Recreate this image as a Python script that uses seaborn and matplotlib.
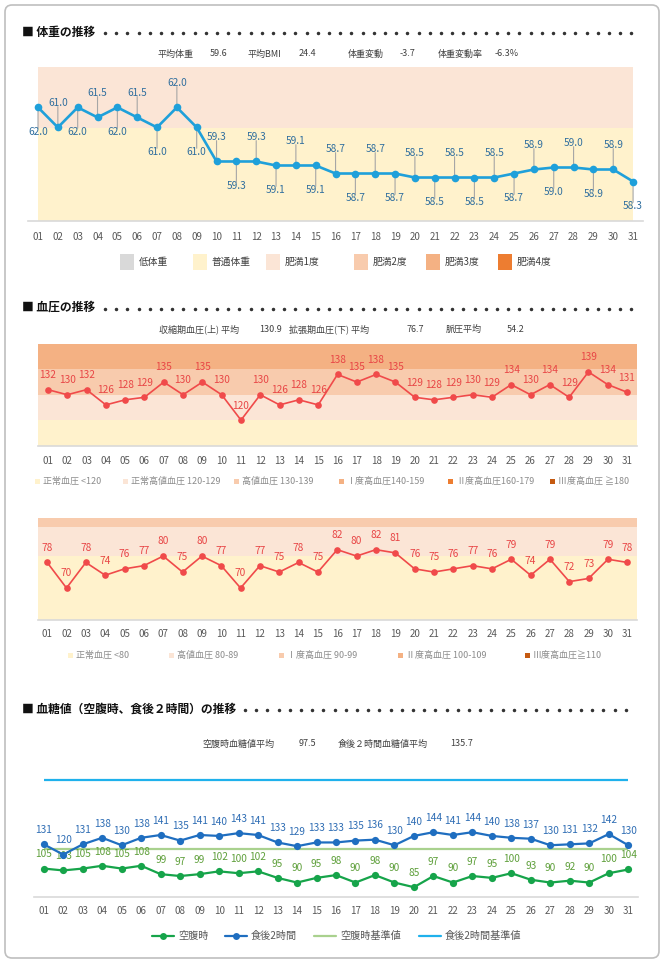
import matplotlib
matplotlib.use('Agg')
import matplotlib.pyplot as plt
from matplotlib.patches import FancyBboxPatch, Rectangle
from matplotlib.lines import Line2D
import numpy as np
import seaborn as sns

# ---- data ----
days = ['01', '02', '03', '04', '05', '06', '07', '08', '09', '10', '11', '12', '13', '14', '15', '16',
        '17', '18', '19', '20', '21', '22', '23', '24', '25', '26', '27', '28', '29', '30', '31']

weight = [62.0, 61.0, 62.0, 61.5, 62.0, 61.5, 61.0, 62.0, 61.0, 59.3, 59.3, 59.3, 59.1, 59.1, 59.1, 58.7,
          58.7, 58.7, 58.7, 58.5, 58.5, 58.5, 58.5, 58.5, 58.7, 58.9, 59.0, 59.0, 58.9, 58.9, 58.3]
weight_stat_names = ['平均体重', '平均BMI', '体重変動', '体重変動率']
weight_stat_values = ['59.6', '24.4', '-3.7', '-6.3%']
weight_cats = ['低体重', '普通体重', '肥満1度', '肥満2度', '肥満3度', '肥満4度']
weight_bmi25 = 60.95

systolic = [132, 130, 132, 126, 128, 129, 135, 130, 135, 130, 120, 130, 126, 128, 126, 138,
            135, 138, 135, 129, 128, 129, 130, 129, 134, 130, 134, 129, 139, 134, 131]
diastolic = [78, 70, 78, 74, 76, 77, 80, 75, 80, 77, 70, 77, 75, 78, 75, 82,
             80, 82, 81, 76, 75, 76, 77, 76, 79, 74, 79, 72, 73, 79, 78]
bp_stat_names = ['収縮期血圧(上) 平均', '拡張期血圧(下) 平均', '脈圧平均']
bp_stat_values = ['130.9', '76.7', '54.2']
sys_cats = ['正常血圧 <120', '正常高値血圧 120-129', '高値血圧 130-139',
            'Ⅰ度高血圧140-159', 'Ⅱ度高血圧160-179', 'Ⅲ度高血圧 ≧180']
sys_bounds = [110, 120, 130, 140, 150]
dia_cats = ['正常血圧 <80', '高値血圧 80-89', 'Ⅰ度高血圧 90-99', 'Ⅱ度高血圧 100-109', 'Ⅲ度高血圧≧110']
dia_bounds = [60, 80, 89, 92]

fasting = [105, 103, 105, 108, 105, 108, 99, 97, 99, 102, 100, 102, 95, 90, 95, 98,
           90, 98, 90, 85, 97, 90, 97, 95, 100, 93, 90, 92, 90, 100, 104]
post_meal = [131, 120, 131, 138, 130, 138, 141, 135, 141, 140, 143, 141, 133, 129, 133, 133,
             135, 136, 130, 140, 144, 141, 144, 140, 138, 137, 130, 131, 132, 142, 130]
fasting_ref = 126
post_meal_ref = 200
glu_stat_names = ['空腹時血糖値平均', '食後２時間血糖値平均']
glu_stat_values = ['97.5', '135.7']
glu_legend = ['空腹時', '食後2時間', '空腹時基準値', '食後2時間基準値']

# ---- styling ----
band_colors = ['#FFF2CC', '#FBE5D6', '#F8CBAD', '#F4B183', '#ED7D31', '#C55A11']
weight_cat_colors = ['#D9D9D9', '#FFF2CC', '#FBE5D6', '#F8CBAD', '#F4B183', '#ED7D31']
dia_cat_colors = ['#FFF2CC', '#FBE5D6', '#F8CBAD', '#F4B183', '#C55A11']
c_weight, c_weight_lbl = '#1FA0DA', '#2F6E9E'
c_bp, c_bp_lbl = '#F04A4A', '#E84545'
c_post, c_post_lbl = '#1F6EC0', '#2E6DB4'
c_fast, c_fast_lbl = '#16A44A', '#5E9F3A'
c_fast_ref, c_post_ref = '#A9D18E', '#1FB1EC'

sns.set_theme(style='white')
plt.rcParams['font.family'] = ['Noto Sans CJK JP', 'DejaVu Sans']

W, H = 665, 965
fig = plt.figure(figsize=(W / 100, H / 100), dpi=100)
fig.patch.set_facecolor('white')


def fx(px):
    return px / W


def fy(py):
    return 1 - py / H


def add_ax(x0, y0, x1, y1, ylim):
    ax = fig.add_axes([fx(x0), fy(y1), (x1 - x0) / W, (y1 - y0) / H])
    ax.set_facecolor('none')
    for s in ['top', 'right', 'left']:
        ax.spines[s].set_visible(False)
    ax.spines['bottom'].set_color('#D9D9D9')
    ax.spines['bottom'].set_linewidth(1.2)
    ax.set_xlim(-0.5, 30.5)
    ax.set_ylim(*ylim)
    ax.set_xticks([])
    ax.set_yticks([])
    ax.ax_h = y1 - y0
    return ax


def day_labels(ax, offset_px):
    for i, d in enumerate(days):
        ax.text(i, -offset_px / ax.ax_h, d, transform=ax.get_xaxis_transform(),
                ha='center', va='center', fontsize=7, color='#595959')


def section_title(text, y, dots_from):
    fig.text(fx(22), fy(y), '■ ' + text, fontsize=8.5, fontweight='bold',
             ha='left', va='center', color='#111111')
    xs = np.arange(dots_from, 635, 11.2)
    fig.add_artist(Line2D(xs / W, np.full(len(xs), fy(y + 1)), ls='none', marker='o',
                          ms=1.5, color='#333333', transform=fig.transFigure))


def stats_line(names, values, xs, y):
    parts = [p for pair in zip(names, values) for p in pair]
    for s, x in zip(parts, xs):
        fig.text(fx(x), fy(y), s, fontsize=6.5, ha='left', va='center', color='#404040')


def square_legend(labels, colors, xs, y, size, fontsize, tcolor, gap):
    for lab, c, x in zip(labels, colors, xs):
        fig.add_artist(Rectangle((fx(x), fy(y + size[1] / 2)), size[0] / W, size[1] / H,
                                 transform=fig.transFigure, color=c, lw=0))
        fig.text(fx(x + size[0] + gap), fy(y), lab, fontsize=fontsize, ha='left',
                 va='center', color=tcolor)


def point_labels(ax, vals, color, off_pt, fmt='{:d}', z=5):
    for i, v in enumerate(vals):
        ax.annotate(fmt.format(v), (i, v), xytext=(0, off_pt), textcoords='offset points',
                    ha='center', va='center', fontsize=7.3, color=color, zorder=z)


x = np.arange(len(days))

# frame
fig.patches.append(FancyBboxPatch((0.05, 0.07), 6.54, 9.53,
                                  boxstyle='round,pad=0,rounding_size=0.07',
                                  transform=fig.dpi_scale_trans, fc='none',
                                  ec='#BFBFBF', lw=1.2))

# ================= weight =================
section_title('体重の推移', 32, 105)
stats_line(weight_stat_names, weight_stat_values, [157, 210, 248, 299, 348, 400, 438, 495], 54)

ax = add_ax(28.1, 67.3, 643, 221, (56.33, 64.0))
ax.fill_between([0, 30], 56.33, weight_bmi25, color=weight_cat_colors[1], lw=0, zorder=0)
ax.fill_between([0, 30], weight_bmi25, 64.0, color=weight_cat_colors[2], lw=0, zorder=0)
sns.lineplot(x=x, y=weight, ax=ax, color=c_weight, lw=1.9, marker='o', markersize=5.5,
             markeredgewidth=0, zorder=4)
for i, v in enumerate(weight):
    sign = -1 if i % 2 == 0 else 1
    ax.annotate('', (i, v), xytext=(0, sign * 15), textcoords='offset points',
                arrowprops=dict(arrowstyle='-', color='#A6A6A6', lw=0.8, shrinkA=0, shrinkB=0),
                zorder=3)
    ax.annotate('{:.1f}'.format(v), (i, v), xytext=(0, sign * 17.5), textcoords='offset points',
                ha='center', va='center', fontsize=7.3, color=c_weight_lbl)
ax.set(xlabel='', ylabel='')
day_labels(ax, 16)
square_legend(weight_cats, weight_cat_colors, [120, 193, 266, 354, 426, 498], 262,
              (14, 15), 7, '#404040', 5)

# ================= systolic =================
section_title('血圧の推移', 307.5, 105)
stats_line(bp_stat_names, bp_stat_values, [159, 259, 289, 407, 446, 507], 329)

ax = add_ax(38.3, 344, 636.7, 445.5, (sys_bounds[0], sys_bounds[-1]))
for k in range(len(sys_bounds) - 1):
    ax.axhspan(sys_bounds[k], sys_bounds[k + 1], color=band_colors[k], lw=0, zorder=0)
sns.lineplot(x=x, y=systolic, ax=ax, color=c_bp, lw=1.2, marker='o', markersize=4.8,
             markeredgewidth=0, zorder=4)
point_labels(ax, systolic, c_bp_lbl, 10.5)
ax.set(xlabel='', ylabel='')
day_labels(ax, 15.5)
square_legend(sys_cats, band_colors, [35, 123, 234, 339, 448, 550], 481,
              (5, 5), 6.5, '#8C8C8C', 3)

# ================= diastolic =================
ax = add_ax(37.5, 517.7, 637, 620, (dia_bounds[0], dia_bounds[-1]))
for k in range(len(dia_bounds) - 1):
    ax.axhspan(dia_bounds[k], dia_bounds[k + 1], color=band_colors[k], lw=0, zorder=0)
sns.lineplot(x=x, y=diastolic, ax=ax, color=c_bp, lw=1.2, marker='o', markersize=4.8,
             markeredgewidth=0, zorder=4)
point_labels(ax, diastolic, c_bp_lbl, 10.5)
ax.set(xlabel='', ylabel='')
day_labels(ax, 14)
square_legend(dia_cats, dia_cat_colors, [68, 169, 279, 398, 525], 655.5,
              (5, 5), 6.5, '#8C8C8C', 3)

# ================= blood glucose =================
section_title('血糖値（空腹時、食後２時間）の推移', 709, 245)
stats_line(glu_stat_names, glu_stat_values, [202, 299, 338, 450], 744)

ax = add_ax(34, 766, 638, 897, (74.5, 215))
ax.hlines(post_meal_ref, 0, 30, color=c_post_ref, lw=1.6, zorder=1)
ax.hlines(fasting_ref, 0, 30, color=c_fast_ref, lw=1.6, zorder=1)
sns.lineplot(x=x, y=fasting, ax=ax, color=c_fast, lw=1.6, marker='o', markersize=5.2,
             markeredgewidth=0, zorder=4)
sns.lineplot(x=x, y=post_meal, ax=ax, color=c_post, lw=1.6, marker='o', markersize=5.2,
             markeredgewidth=0, zorder=6)
point_labels(ax, fasting, c_fast_lbl, 10.2, z=3)
point_labels(ax, post_meal, c_post_lbl, 10.2, z=5)
ax.set(xlabel='', ylabel='')
day_labels(ax, 14)

leg_y = 936
leg_styles = [(c_fast, 'o'), (c_post, 'o'), (c_fast_ref, None), (c_post_ref, None)]
for (c, m), lab, x0 in zip(leg_styles, glu_legend, [152, 225, 314, 419]):
    fig.add_artist(Line2D([fx(x0), fx(x0 + 22)], [fy(leg_y), fy(leg_y)], color=c, lw=1.6,
                          transform=fig.transFigure))
    if m:
        fig.add_artist(Line2D([fx(x0 + 11)], [fy(leg_y)], color=c, marker=m, ms=5,
                              markeredgewidth=0, transform=fig.transFigure))
    fig.text(fx(x0 + 26), fy(leg_y), lab, fontsize=7.3, ha='left', va='center', color='#595959')

fig.savefig('out.png', dpi=100, facecolor='white')
